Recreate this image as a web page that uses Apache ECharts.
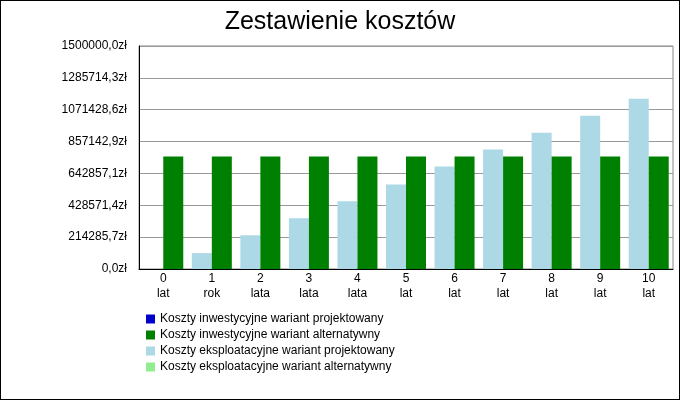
<!DOCTYPE html>
<html lang="pl">
<head>
<meta charset="UTF-8" />
<title>Zestawienie kosztów</title>
<script src="https://cdn.jsdelivr.net/npm/echarts@6/dist/echarts.min.js"></script>
<style>
  html, body { margin: 0; padding: 0; background: #fff; }
  #main { width: 678px; height: 398px; border: 1px solid #000; }
</style>
</head>
<body>
<div id="main"></div>
<script>
// dane
var categories = ['0\nlat', '1\nrok', '2\nlata', '3\nlata', '4\nlata', '5\nlat', '6\nlat', '7\nlat', '8\nlat', '9\nlat', '10\nlat'];
var invProj = [0, 0, 0, 0, 0, 0, 0, 0, 0, 0, 0];
var invAlt = [757000, 757000, 757000, 757000, 757000, 757000, 757000, 757000, 757000, 757000, 757000];
var explProj = [0, 107000, 227000, 341000, 455000, 569000, 690000, 804000, 917000, 1031000, 1145000];
var explAlt = [0, 0, 0, 0, 0, 0, 0, 0, 0, 0, 0];
var names = ['Koszty inwestycyjne wariant projektowany', 'Koszty inwestycyjne wariant alternatywny',
             'Koszty eksploatacyjne wariant projektowany', 'Koszty eksploatacyjne wariant alternatywny'];

var chart = echarts.init(document.getElementById('main'));
var step = 1500000 / 7;

chart.setOption({
    animation: false,
    textStyle: { fontFamily: 'Liberation Sans, Arial, sans-serif' },
    title: {
        text: 'Zestawienie kosztów', left: 'center', top: 4,
        textStyle: { fontSize: 25, fontWeight: 'normal', color: '#000' }
    },
    legend: {
        orient: 'vertical', left: 140, top: 307, itemGap: 4,
        itemWidth: 9, itemHeight: 9, icon: 'rect',
        textStyle: { fontSize: 12, color: '#000' },
        data: names
    },
    grid: { left: 138, right: 6, top: 45, bottom: 130, show: true, borderColor: '#888', backgroundColor: '#fff' },
    xAxis: [{
        type: 'category', data: categories,
        axisTick: { show: false },
        axisLine: { lineStyle: { color: '#000' } },
        axisLabel: { color: '#000', fontSize: 12, lineHeight: 15, margin: 2 }
    }, {
        type: 'category', data: categories, show: false
    }],
    yAxis: {
        type: 'value', min: 0, max: 1500000, interval: step,
        axisLine: { show: true, lineStyle: { color: '#000' } },
        axisTick: { show: false },
        splitLine: { lineStyle: { color: '#999' } },
        axisLabel: {
            color: '#000', fontSize: 12, margin: 12,
            formatter: function (v) { return v.toFixed(1).replace('.', ',') + 'zł'; }
        }
    },
    series: [
        { name: names[0], type: 'bar', xAxisIndex: 1, data: invProj, itemStyle: { color: '#0000cc' } },
        { name: names[2], type: 'bar', data: explProj, barGap: '0%', barWidth: 20, itemStyle: { color: '#add8e6' } },
        { name: names[1], type: 'bar', data: invAlt, barGap: '0%', barWidth: 20, itemStyle: { color: '#008000' } },
        { name: names[3], type: 'bar', xAxisIndex: 1, data: explAlt, itemStyle: { color: '#90ee90' } }
    ]
});
</script>
</body>
</html>
